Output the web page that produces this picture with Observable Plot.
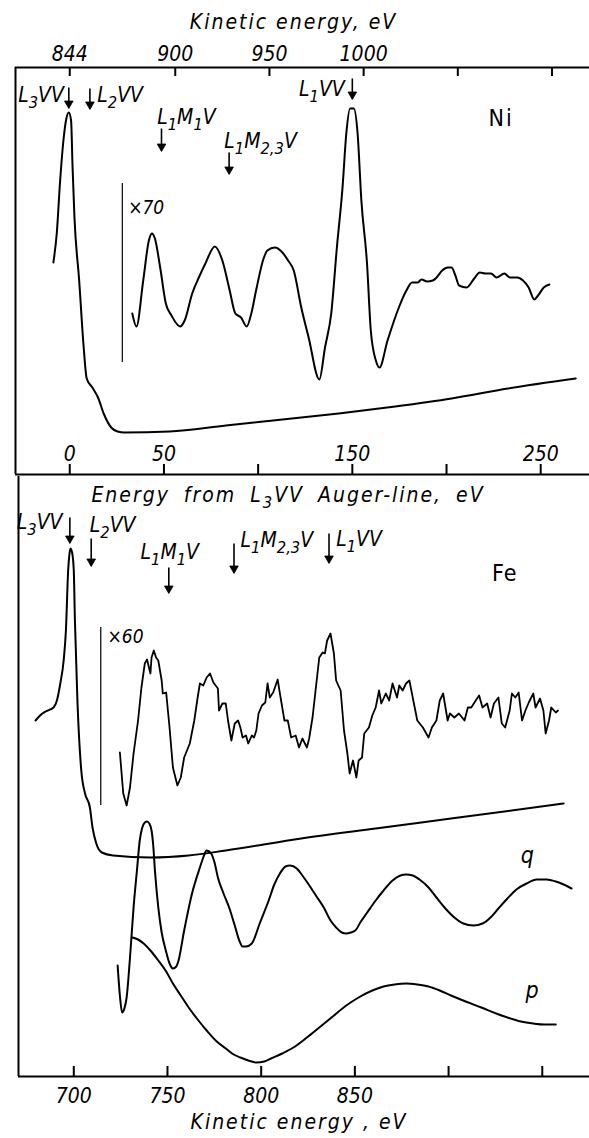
<!DOCTYPE html>
<html>
<head>
<meta charset="utf-8">
<script src="https://cdn.jsdelivr.net/npm/d3@7"></script>
<script src="https://cdn.jsdelivr.net/npm/@observablehq/plot@0.6"></script>
<style>
  html, body { margin: 0; padding: 0; background: #fff; }
  #chart { width: 589px; }
  #chart svg { display: block; }
</style>
</head>
<body>
<div id="chart"></div>
<script>
// ---------------- DATA (kinetic energy in eV, intensity in arbitrary units) ----------------
const niL3VV = 844;
const niTopTicks = [844, 900, 950, 1000, 1050, 1100];
const niTopTickLabels = [844, 900, 950, 1000];
const relTicks = [0, 50, 100, 150, 200, 250];
const relTickLabels = [0, 50, 150, 250];
const feTicks = [700, 750, 800, 850, 900, 950];
const feTickLabels = [700, 750, 800, 850];

// Ni spectrum x1  [E, I]
const niSurvey = [[835.3,210],[837.1,239],[838.9,292],[840.8,335],[842.2,354],[843.5,360],[844.7,352],[845.5,305],[846.5,255],[849.0,192],[851.4,125],[853.0,94],[856.0,85],[859.0,75],[862.0,59],[866.0,45],[869.4,41],[873.0,40],[897.0,41],[926.9,47],[956.9,53],[986.8,59],[1016.8,66],[1046.7,74],[1076.6,84],[1112.6,94]];
// Ni spectrum x70
const niX70 = [[877.2,159],[879.4,146],[883.0,192],[886.0,232],[887.6,239],[889.2,234],[892.0,205],[895.0,169],[898.0,157],[902.6,146],[905.0,152],[909.0,179],[913.0,197],[916.0,209],[921.0,226],[925.0,212],[928.9,182],[931.9,159],[934.9,155],[937.9,146],[940.5,160],[942.9,182],[946.9,214],[948.9,222],[952.9,225],[956.9,220],[959.9,212],[962.9,202],[966.9,165],[970.8,135],[976.5,93],[979.5,125],[982.8,159],[985.8,225],[988.8,285],[990.8,339],[992.8,364],[994.8,364],[996.8,339],[998.8,272],[1001.8,209],[1003.8,142],[1006.5,112],[1008.4,105],[1012.7,132],[1018.7,165],[1022.7,182],[1025.7,190],[1028.7,190],[1030.7,193],[1033.7,191],[1036.7,192],[1038.7,195],[1041.7,202],[1044.7,205],[1046.7,205],[1048.7,197],[1050.7,187],[1054.7,185],[1058.7,194],[1061.7,200],[1064.6,199],[1067.6,199],[1070.6,195],[1074.7,199],[1077.7,195],[1081.6,195],[1084.6,192],[1087.6,185],[1090.6,173],[1092.6,177],[1095.6,185],[1098.6,188]];
const niBar = [{E: 871.9, I1: 110, I2: 289}];

// Fe spectrum x1
const feSurvey = [[679.6,356],[682.0,361],[685.0,365],[689.2,369],[691.0,376],[692.8,393],[694.6,416],[695.8,446],[697.0,506],[697.6,521],[698.2,528],[699.1,524],[700.0,506],[700.6,456],[702.0,373],[704.0,306],[706.0,283],[708.6,269],[710.0,249],[712.0,233],[715.0,224],[721.0,221],[740.9,219],[761.3,221],[781.1,226],[821.4,238],[861.1,248],[901.3,258],[961.4,273]];
// Fe spectrum x60
const feX60 = [[724.6,324],[726.4,283],[728.2,271],[730.0,289],[731.9,323],[734.3,356],[736.1,389],[737.9,413],[739.1,417],[740.9,403],[741.5,419],[742.7,426],[743.9,419],[745.1,416],[746.9,396],[747.5,383],[749.3,384],[751.1,349],[752.9,309],[755.3,291],[757.1,299],[758.9,319],[761.9,333],[764.3,356],[766.1,379],[767.3,393],[769.1,391],[770.9,399],[772.7,403],[774.5,394],[776.9,388],[777.5,366],[779.3,373],[781.1,373],[782.3,356],[784.1,336],[785.9,353],[787.7,356],[788.9,349],[790.1,339],[791.9,341],[793.1,333],[795.0,341],[796.2,339],[797.4,346],[798.6,363],[800.4,371],[802.2,374],[803.4,393],[804.6,379],[806.4,384],[808.8,397],[810.0,383],[812.4,356],[814.2,356],[816.0,339],[818.4,341],[820.2,329],[822.0,338],[824.4,329],[825.6,338],[827.4,359],[829.2,389],[831.0,419],[832.8,424],[834.0,423],[835.2,436],[837.0,443],[838.8,423],[840.0,396],[842.4,386],[844.2,346],[846.0,323],[847.2,303],[849.0,316],[850.8,299],[852.0,316],[853.8,319],[855.0,343],[857.5,349],[859.3,361],[861.1,369],[862.9,386],[864.1,373],[866.5,383],[868.3,376],[870.1,393],[872.5,379],[873.7,391],[875.5,386],[877.3,393],[879.1,396],[881.5,373],[883.3,356],[886.3,349],[889.3,339],[891.1,349],[893.5,356],[895.3,376],[897.1,383],[899.5,356],[900.7,363],[903.1,359],[905.5,363],[908.5,356],[910.3,369],[912.1,369],[914.5,376],[916.3,381],[918.1,369],[920.6,373],[922.4,359],[924.2,373],[926.6,379],[928.4,353],[930.2,349],[932.6,366],[933.8,383],[935.6,379],[937.4,384],[939.2,356],[941.0,366],[942.8,374],[945.2,383],[946.4,369],[948.8,378],[950.6,366],[951.8,343],[953.6,356],[954.8,369],[957.2,364],[958.4,366]];
const feBar = [{E: 714.4, I1: 271, I2: 449}];
// calculated curves q and p
const qCurve = [[723.4,111],[724.6,81],[725.8,64],[727.0,68],[728.2,79],[730.0,119],[731.9,169],[733.7,206],[735.2,236],[736.4,248],[737.9,254],[739.1,255],[740.3,253],[741.5,246],[742.4,231],[743.3,206],[745.1,169],[746.9,144],[749.1,126],[751.1,113],[752.9,108],[754.7,110],[755.9,116],[758.9,146],[763.1,183],[767.3,209],[769.1,219],[770.9,226],[773.3,223],[775.1,214],[776.9,199],[779.9,183],[782.9,169],[785.9,151],[788.3,136],[790.1,130],[791.9,130],[795.0,133],[799.2,153],[804.0,176],[807.0,192],[810.0,203],[813.0,210],[815.4,211],[819.0,208],[822.0,201],[825.0,193],[829.2,181],[833.4,169],[837.0,156],[840.0,149],[843.0,144],[845.4,143],[847.8,144],[850.2,146],[853.2,155],[856.2,163],[861.1,176],[865.3,186],[870.1,196],[874.3,201],[877.3,202],[880.9,201],[884.5,197],[889.3,189],[893.5,179],[898.3,168],[903.1,159],[907.9,153],[913.3,151],[918.1,153],[922.4,159],[926.6,168],[931.4,178],[936.2,187],[941.6,193],[947.0,197],[952.4,197],[957.2,195],[961.4,192],[965.6,188]];
const pCurve = [[731.3,139],[734.3,137],[737.3,133],[740.9,126],[745.1,116],[749.3,105],[752.9,93],[757.1,81],[761.3,69],[766.1,57],[770.9,46],[776.3,35],[781.1,28],[785.3,22],[788.9,19],[793.1,16],[797.4,14],[801.6,15],[805.2,18],[811.2,23],[817.2,29],[824.4,39],[831.0,49],[838.2,60],[845.4,71],[852.0,79],[859.3,86],[865.3,90],[871.3,92],[877.3,93],[883.3,92],[889.3,90],[895.3,86],[901.3,81],[909.1,75],[917.5,69],[925.4,63],[931.4,59],[938.6,55],[945.2,53],[951.2,52],[957.2,52]];

// Auger line markers
const niArrows = [
  {E: 843.5, from: 385, to: 365}, {E: 854.7, from: 384, to: 364},
  {E: 892.7, from: 344, to: 322}, {E: 928.6, from: 320, to: 299},
  {E: 994.0, from: 394, to: 374}
];
const niLineLabels = [
  {E: 840.9, I: 371, text: "L{3}VV", anchor: "end"},
  {E: 858.6, I: 371, text: "L{2}VV", anchor: "start"},
  {E: 890.4, I: 349, text: "L{1}M{1}V", anchor: "start"},
  {E: 926.0, I: 325, text: "L{1}M{2,3}V", anchor: "start"},
  {E: 990.0, I: 377, text: "L{1}VV", anchor: "end"}
];
const feArrows = [
  {E: 697.9, from: 559, to: 534}, {E: 709.3, from: 538, to: 511},
  {E: 750.7, from: 509, to: 484}, {E: 785.5, from: 533, to: 504},
  {E: 836.2, from: 543, to: 514}
];
const feLineLabels = [
  {E: 694.0, I: 548, text: "L{3}VV", anchor: "end"},
  {E: 708.5, I: 545, text: "L{2}VV", anchor: "start"},
  {E: 735.6, I: 518, text: "L{1}M{1}V", anchor: "start"},
  {E: 789.0, I: 530, text: "L{1}M{2,3}V", anchor: "start"},
  {E: 840.0, I: 531, text: "L{1}VV", anchor: "start"}
];
const niTags = [{E: 1073, I: 347, text: "Ni"}];
const feTags = [{E: 930, I: 496, text: "Fe"}];
const niGain = [{E: 875, I: 259, text: "×70"}];
const feGain = [{E: 718, I: 434, text: "×60"}];
const curveTags = [{E: 942, I: 214, text: "q"}, {E: 944.6, I: 79, text: "p"}];

const topTitle = "Kinetic energy, eV";
const midTitle = "Energy from L{3}VV Auger-line, eV";
const bottomTitle = "Kinetic energy , eV";

// ---------------- PLOTS ----------------
const baseStyle = {fontFamily: "'DejaVu Sans Condensed', 'DejaVu Sans', sans-serif", fontStyle: "italic", fontSize: "21px", color: "#000", background: "transparent", overflow: "visible"};
const X = d => d[0], Y = d => d[1];
const fmt = d => String(d);
const lineLabelMarks = (labels) => [
  Plot.text(labels.filter(d => d.anchor === "start"), {x: "E", y: "I", text: "text", textAnchor: "start", lineAnchor: "bottom", fontSize: 21}),
  Plot.text(labels.filter(d => d.anchor === "end"), {x: "E", y: "I", text: "text", textAnchor: "end", lineAnchor: "bottom", fontSize: 21})
];
const arrowMarks = (arrows) => [
  Plot.link(arrows, {x1: "E", x2: "E", y1: "from", y2: "to", strokeWidth: 1.6}),
  Plot.dot(arrows, {x: "E", y: "to", symbol: "triangle", rotate: 180, r: 3.2, fill: "black", stroke: "black", strokeWidth: 0.8, dy: -4})
];

const topH = 476, topMT = 67, topMB = 2;
const topInner = topH - topMT - topMB;
const niPlot = Plot.plot({
  width: 589, height: topH,
  marginTop: topMT, marginBottom: topMB, marginLeft: 15, marginRight: 0,
  x: {domain: [815.2, 1119.9], axis: null},
  y: {domain: [-2, 405], axis: null},
  style: baseStyle,
  marks: [
    Plot.ruleY([405], {strokeWidth: 2}),
    Plot.ruleY([-2], {strokeWidth: 2}),
    Plot.ruleX([815.2], {strokeWidth: 2}),
    Plot.tickX(niTopTicks, {x: d => d, insetBottom: topInner - 9, strokeWidth: 2}),
    Plot.axisX({anchor: "top", ticks: niTopTickLabels, tickFormat: fmt, tickSize: 0, tickPadding: 7, label: null, fontSize: 21}),
    Plot.text([topTitle], {frameAnchor: "top", lineAnchor: "bottom", dy: -39, dx: -9, fontSize: 21}),
    Plot.tickX(relTicks, {x: d => niL3VV + d, insetTop: topInner - 10, strokeWidth: 2}),
    Plot.text(relTickLabels, {x: d => niL3VV + d, text: fmt, frameAnchor: "bottom", lineAnchor: "bottom", dy: -14, fontSize: 21}),
    Plot.ruleX(niBar, {x: "E", y1: "I1", y2: "I2", strokeWidth: 1.2}),
    Plot.line(niSurvey, {x: X, y: Y, curve: "monotone-x", strokeWidth: 2}),
    Plot.line(niX70, {x: X, y: Y, curve: "monotone-x", strokeWidth: 2}),
    ...arrowMarks(niArrows),
    ...lineLabelMarks(niLineLabels),
    Plot.text(niTags, {x: "E", y: "I", text: "text", lineAnchor: "bottom", fontStyle: "normal", fontSize: 23}),
    Plot.text(niGain, {x: "E", y: "I", text: "text", textAnchor: "start", lineAnchor: "bottom", fontSize: 19})
  ]
});

const botH = 662, botMB = 62;
const botInner = botH - botMB;
const fePlot = Plot.plot({
  width: 589, height: botH,
  marginTop: 0, marginBottom: botMB, marginLeft: 18, marginRight: 0,
  x: {domain: [670.5, 975.2], axis: null},
  y: {domain: [0, 600], axis: null},
  style: baseStyle,
  marks: [
    Plot.ruleY([0], {strokeWidth: 2}),
    Plot.ruleX([670.5], {strokeWidth: 2}),
    Plot.text([midTitle], {frameAnchor: "top", lineAnchor: "bottom", dy: 25, dx: -16, fontSize: 21}),
    Plot.tickX(feTicks, {x: d => d, insetTop: botInner - 10, strokeWidth: 2}),
    Plot.axisX({anchor: "bottom", ticks: feTickLabels, tickFormat: fmt, tickSize: 0, tickPadding: 12, label: null, fontSize: 21}),
    Plot.text([bottomTitle], {frameAnchor: "bottom", lineAnchor: "bottom", dy: 52, dx: -5, fontSize: 21}),
    Plot.ruleX(feBar, {x: "E", y1: "I1", y2: "I2", strokeWidth: 1.2}),
    Plot.line(feSurvey, {x: X, y: Y, curve: "monotone-x", strokeWidth: 2}),
    Plot.line(feX60, {x: X, y: Y, curve: "linear", strokeWidth: 1.8}),
    Plot.line(qCurve, {x: X, y: Y, curve: "monotone-x", strokeWidth: 2}),
    Plot.line(pCurve, {x: X, y: Y, curve: "monotone-x", strokeWidth: 2}),
    ...arrowMarks(feArrows),
    ...lineLabelMarks(feLineLabels),
    Plot.text(feTags, {x: "E", y: "I", text: "text", lineAnchor: "bottom", fontStyle: "normal", fontSize: 23}),
    Plot.text(feGain, {x: "E", y: "I", text: "text", textAnchor: "start", lineAnchor: "bottom", fontSize: 19}),
    Plot.text(curveTags, {x: "E", y: "I", text: "text", lineAnchor: "bottom", fontSize: 23})
  ]
});

const chart = document.getElementById("chart");
chart.appendChild(niPlot);
chart.appendChild(fePlot);

// wide hand-lettered spacing for axis titles and the Ni / Fe tags
function spaceOut(svg, content, letter, word) {
  for (const t of svg.querySelectorAll("text")) {
    if (t.textContent === content) {
      t.style.letterSpacing = letter + "px";
      if (word) t.style.wordSpacing = word + "px";
    }
  }
}
spaceOut(niPlot, topTitle, 2);
spaceOut(fePlot, midTitle, 2, 6);
spaceOut(fePlot, bottomTitle, 2);
spaceOut(niPlot, "Ni", 2);
spaceOut(fePlot, "Fe", 1);

// turn "{..}" segments into real subscript tspans
function applySubscripts(svg) {
  const NS = "http://www.w3.org/2000/svg";
  const walker = document.createTreeWalker(svg, NodeFilter.SHOW_TEXT);
  const nodes = [];
  while (walker.nextNode()) if (walker.currentNode.nodeValue.includes("{")) nodes.push(walker.currentNode);
  for (const node of nodes) {
    const parent = node.parentNode;
    const fs = parseFloat(getComputedStyle(parent).fontSize) || 20;
    const shift = Math.round(fs * 0.3 * 10) / 10;
    const parts = node.nodeValue.split(/(\{[^}]*\})/);
    const frag = document.createDocumentFragment();
    let down = 0;
    for (const p of parts) {
      if (!p) continue;
      const t = document.createElementNS(NS, "tspan");
      if (p.startsWith("{")) {
        t.textContent = p.slice(1, -1);
        t.setAttribute("font-size", (fs * 0.78).toFixed(1));
        t.setAttribute("dy", shift);
        down = shift;
      } else {
        t.textContent = p;
        if (down) { t.setAttribute("dy", -down); down = 0; }
      }
      frag.appendChild(t);
    }
    parent.replaceChild(frag, node);
  }
}
applySubscripts(niPlot);
applySubscripts(fePlot);
</script>
</body>
</html>
